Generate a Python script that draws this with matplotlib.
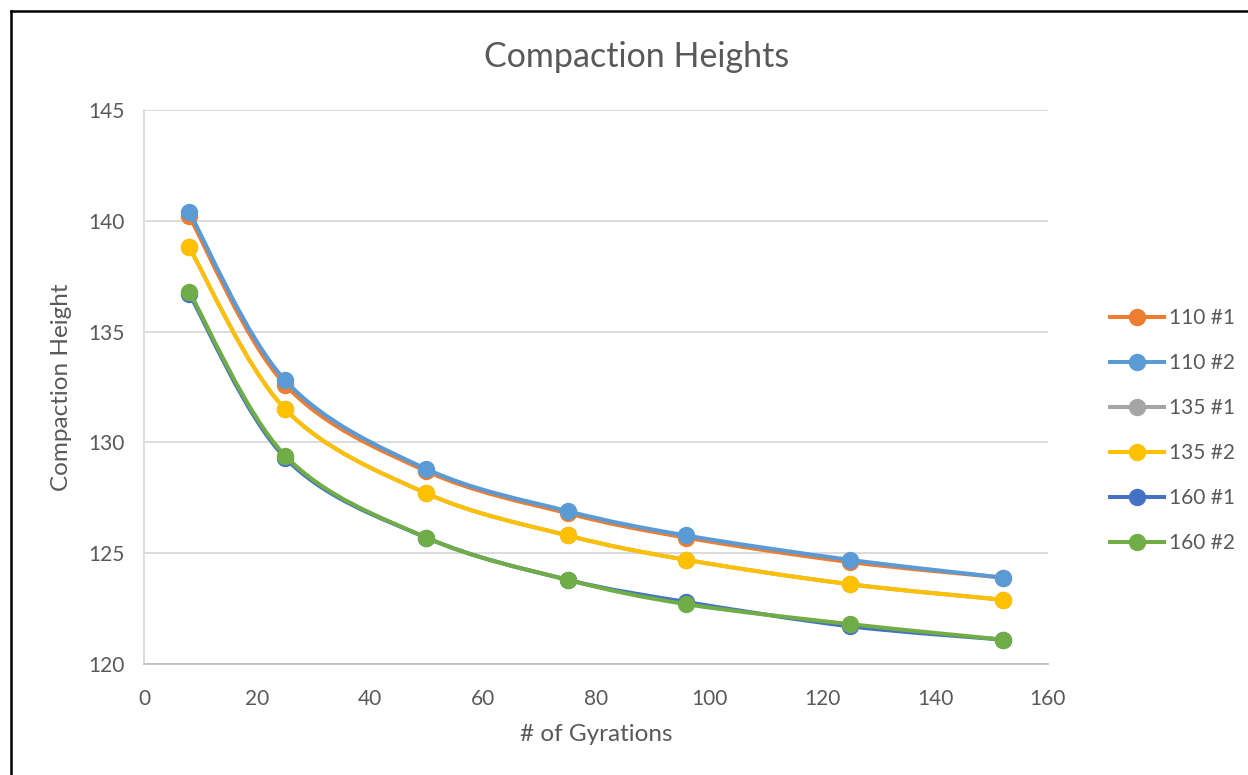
import matplotlib
matplotlib.use("Agg")
import matplotlib.pyplot as plt
from matplotlib.path import Path
from matplotlib.patches import PathPatch
from matplotlib.lines import Line2D

gyrations = [8, 25, 50, 75, 96, 125, 152]
h110_1 = [140.2, 132.6, 128.7, 126.8, 125.7, 124.6, 123.9]
h110_2 = [140.4, 132.8, 128.8, 126.9, 125.8, 124.7, 123.9]
h135_1 = [138.8, 131.5, 127.7, 125.8, 124.7, 123.6, 122.9]
h135_2 = [138.8, 131.5, 127.7, 125.8, 124.7, 123.6, 122.9]
h160_1 = [136.7, 129.3, 125.7, 123.8, 122.8, 121.7, 121.1]
h160_2 = [136.8, 129.4, 125.7, 123.8, 122.7, 121.8, 121.1]

labels = ["110 #1", "110 #2", "135 #1", "135 #2", "160 #1", "160 #2"]
colors = ["#ED7D31", "#5B9BD5", "#A5A5A5", "#FFC000", "#4472C4", "#70AD47"]
series = [h110_1, h110_2, h135_1, h135_2, h160_1, h160_2]

text_color = "#595959"
plt.rcParams["font.family"] = ["Lato", "DejaVu Sans"]


def smooth_path(xs, ys):
    """Excel style smoothed line: bezier segments through every point"""
    pts = list(zip(xs, ys))
    n = len(pts)
    verts = [pts[0]]
    codes = [Path.MOVETO]
    for i in range(n - 1):
        p0 = pts[max(i - 1, 0)]
        p1 = pts[i]
        p2 = pts[i + 1]
        p3 = pts[min(i + 2, n - 1)]
        c1 = (p1[0] + (p2[0] - p0[0]) / 6, p1[1] + (p2[1] - p0[1]) / 6)
        c2 = (p2[0] - (p3[0] - p1[0]) / 6, p2[1] - (p3[1] - p1[1]) / 6)
        verts += [c1, c2, p2]
        codes += [Path.CURVE4] * 3
    return Path(verts, codes)


fig = plt.figure(figsize=(12.48, 7.75), dpi=100)
ax = fig.add_axes([0.1154, 0.1432, 0.7243, 0.7148])

for vals, col in zip(series, colors):
    patch = PathPatch(smooth_path(gyrations, vals), facecolor="none",
                      edgecolor=col, linewidth=2.9, capstyle="round",
                      joinstyle="round", zorder=3)
    ax.add_patch(patch)
    ax.plot(gyrations, vals, linestyle="none", marker="o", markersize=11.5,
            color=col, zorder=3)

ax.set_xlim(0, 160)
ax.set_ylim(120, 145)
ax.set_xticks(range(0, 161, 20))
ax.set_yticks(range(120, 146, 5))
ax.grid(axis="y", color="#D9D9D9", linewidth=1.3)
ax.set_axisbelow(True)
for side in ["top", "right"]:
    ax.spines[side].set_visible(False)
ax.spines["left"].set_color("#D9D9D9")
ax.spines["left"].set_linewidth(1.3)
ax.spines["bottom"].set_color("#BFBFBF")
ax.spines["bottom"].set_linewidth(1.3)
ax.tick_params(length=0, labelsize=15, colors=text_color)
ax.tick_params(axis="x", pad=18)
ax.tick_params(axis="y", pad=14)

ax.set_xlabel("# of Gyrations", fontsize=17.5, color=text_color, labelpad=11)
ax.set_ylabel("Compaction Height", fontsize=17.5, color=text_color, labelpad=12)
fig.text(0.51, 0.927, "Compaction Heights", fontsize=24.5, color=text_color,
         ha="center", va="center")

handles = [Line2D([], [], color=c, linewidth=2.9, marker="o", markersize=11.5)
           for c in colors]
fig.legend(handles, labels, loc="center left", bbox_to_anchor=(0.874, 0.444),
           frameon=False, fontsize=15, labelcolor=text_color,
           handlelength=2.6, handletextpad=0.25, labelspacing=1.2)

# figure border (top and left edges show in the reference)
fig.add_artist(Line2D([11 / 1248, 1], [1 - 11 / 775, 1 - 11 / 775],
                      color="black", linewidth=1.8, transform=fig.transFigure))
fig.add_artist(Line2D([11 / 1248, 11 / 1248], [0, 1 - 11 / 775],
                      color="black", linewidth=1.8, transform=fig.transFigure))

fig.savefig("out.png", dpi=100)
